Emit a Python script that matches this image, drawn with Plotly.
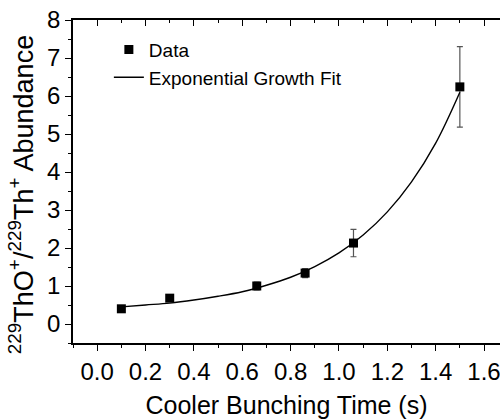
import plotly.graph_objects as go

# Data points
time_s = [0.1, 0.3, 0.66, 0.86, 1.06, 1.5]
abundance = [0.40, 0.68, 1.00, 1.34, 2.13, 6.24]
abundance_err = [0.05, 0.08, 0.10, 0.12, 0.36, 1.06]

# Exponential growth fit curve
fit_time = [0.1, 0.2, 0.3, 0.4, 0.5, 0.6, 0.7, 0.8, 0.9, 1.0, 1.1, 1.2, 1.3, 1.4, 1.5]
fit_abundance = [0.45, 0.50, 0.55, 0.63, 0.73, 0.85, 1.02, 1.23, 1.51, 1.87, 2.34, 2.95, 3.74, 4.76, 6.10]

x_ticks = [0.0, 0.2, 0.4, 0.6, 0.8, 1.0, 1.2, 1.4, 1.6]
x_tick_labels = ["0.0", "0.2", "0.4", "0.6", "0.8", "1.0", "1.2", "1.4", "1.6"]
y_ticks = [0, 1, 2, 3, 4, 5, 6, 7, 8]

FONT = "Liberation Sans, Arial, sans-serif"

fig = go.Figure()
fig.add_trace(go.Scatter(
    x=time_s, y=abundance, mode="markers", name="Data",
    marker=dict(symbol="square", size=9, color="black"),
    error_y=dict(type="data", array=abundance_err, visible=True,
                 color="#555555", thickness=1.2, width=3),
))
fig.add_trace(go.Scatter(
    x=fit_time, y=fit_abundance, mode="lines", name="Exponential Growth Fit",
    line=dict(color="black", width=1.4, shape="spline"),
))
# invisible trace to carry the top axis
fig.add_trace(go.Scatter(x=[None], y=[None], xaxis="x2", showlegend=False,
                         hoverinfo="skip"))

axis_common = dict(
    showgrid=False, zeroline=False, linecolor="black", linewidth=1.5,
    tickcolor="black", tickwidth=1.2,
    tickfont=dict(family=FONT, size=24, color="black"),
)

fig.update_layout(
    width=500, height=419,
    margin=dict(l=73, r=0, t=20, b=76),
    paper_bgcolor="white", plot_bgcolor="white",
    font=dict(family=FONT, color="black"),
    xaxis=dict(
        range=[-0.1, 1.666], tickvals=x_ticks, ticktext=x_tick_labels,
        ticks="outside", ticklen=6, showline=True, ticklabeloverflow="allow",
        automargin=False,
        minor=dict(dtick=0.1, tick0=0, ticks="outside", ticklen=3,
                   tickcolor="black", tickwidth=1),
        title=dict(text="Cooler Bunching Time (s)", standoff=22,
                   font=dict(family=FONT, size=25, color="black")),
        **axis_common,
    ),
    xaxis2=dict(
        overlaying="x", side="top", matches="x", range=[-0.1, 1.666],
        tickvals=x_ticks, showticklabels=False, ticks="inside", ticklen=6,
        showline=True,
        minor=dict(dtick=0.1, tick0=0, ticks="inside", ticklen=3,
                   tickcolor="black", tickwidth=1),
        **axis_common,
    ),
    yaxis=dict(
        range=[-0.5, 8], tickvals=y_ticks, ticks="outside", ticklen=6,
        showline=True, automargin=False,
        minor=dict(dtick=0.5, tick0=0, ticks="outside", ticklen=3,
                   tickcolor="black", tickwidth=1),
        **axis_common,
    ),
    legend=dict(
        x=0.084, y=0.967, xanchor="left", yanchor="top",
        bgcolor="rgba(0,0,0,0)", borderwidth=0,
        font=dict(family=FONT, size=19, color="black"),
        tracegroupgap=0,
    ),
    showlegend=True,
    annotations=[dict(
        text="<sup>229</sup>ThO<sup>+</sup>/<sup>229</sup>Th<sup>+</sup> Abundance",
        xref="paper", yref="paper", x=-0.12, y=0.46,
        xanchor="center", yanchor="middle", textangle=-90, showarrow=False,
        font=dict(family=FONT, size=27, color="black"),
    )],
)

fig.write_html("out.html")
